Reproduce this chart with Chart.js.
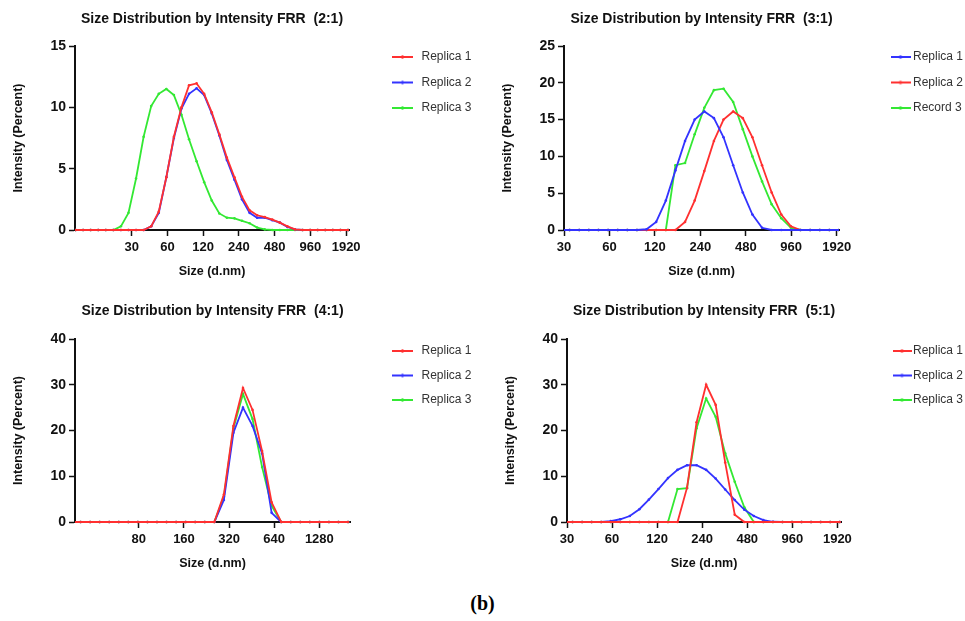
<!DOCTYPE html>
<html><head><meta charset="utf-8">
<script src="https://cdn.jsdelivr.net/npm/chart.js@4.4.1/dist/chart.umd.min.js"></script>
<style>
html,body{margin:0;padding:0;background:#fff;}
body{width:965px;height:621px;position:relative;overflow:hidden;}
canvas{position:absolute;}
#cap{position:absolute;left:0;width:965px;top:591px;text-align:center;font:bold 20px 'Liberation Serif','DejaVu Serif',serif;color:#000;line-height:24px;}
</style></head><body>
<canvas id="c1" width="482" height="290" style="left:0;top:0;width:482px;height:290px"></canvas>
<canvas id="c2" width="483" height="290" style="left:482px;top:0;width:483px;height:290px"></canvas>
<canvas id="c3" width="482" height="290" style="left:0;top:290px;width:482px;height:290px"></canvas>
<canvas id="c4" width="483" height="290" style="left:482px;top:290px;width:483px;height:290px"></canvas>
<div id="cap">(b)</div>
<script>
// ---------- data ----------
const titles = [
  'Size Distribution by Intensity FRR  (2:1)',
  'Size Distribution by Intensity FRR  (3:1)',
  'Size Distribution by Intensity FRR  (4:1)',
  'Size Distribution by Intensity FRR  (5:1)'
];
const xTitle = 'Size (d.nm)';
const yTitle = 'Intensity (Percent)';

const sizesA = [10.1, 11.7, 13.54, 15.69, 18.17, 21.04, 24.36, 28.21, 32.67, 37.84, 43.82, 50.75, 58.77, 68.06, 78.82, 91.28, 105.7, 122.4, 141.8, 164.2, 190.1, 220.2, 255.0, 295.3, 342.0, 396.1, 458.7, 531.2, 615.1, 712.4, 825.0, 955.4, 1106, 1281, 1484, 1718, 1990];
const sizesB = [28.21, 32.67, 37.84, 43.82, 50.75, 58.77, 68.06, 78.82, 91.28, 105.7, 122.4, 141.8, 164.2, 190.1, 220.2, 255.0, 295.3, 342.0, 396.1, 458.7, 531.2, 615.1, 712.4, 825.0, 955.4, 1106, 1281, 1484, 1718, 1990];

const frr21Replica1 = [0,0,0,0,0,0,0,0,0,0, 0.3,1.5,4.3,7.6,10.0,11.8,11.95,11.1,9.6,7.8, 5.9,4.3,2.7,1.6,1.2,1.05,0.85,0.6,0.3,0.05, 0,0,0,0,0,0,0];
const frr21Replica2 = [0,0,0,0,0,0,0,0,0,0, 0.3,1.4,4.3,7.5,9.9,11.1,11.55,11.0,9.5,7.7, 5.7,4.1,2.5,1.4,1.0,1.0,0.8,0.6,0.25,0.05, 0,0,0,0,0,0,0];
const frr21Replica3 = [0,0,0,0,0,0, 0.3,1.4,4.2,7.6,10.1,11.1,11.5,11.0,9.4,7.4,5.6,3.9,2.4,1.35, 1.0,0.95,0.75,0.55,0.2,0.05, 0,0,0,0,0,0,0,0,0,0,0];

const frr31Replica1 = [0,0,0,0,0,0,0,0,0, 0.1,1.1,4.0,8.1,12.1,15.0,16.1,15.2,12.6,8.8,5.1,2.1,0.3, 0,0,0,0,0,0,0,0];
const frr31Replica2 = [0,0,0,0,0,0,0,0,0,0,0,0,0, 1.1,4.0,8.0,12.1,15.0,16.1,15.2,12.6,8.8,5.1,2.1,0.5, 0,0,0,0,0];
const frr31Record3  = [0,0,0,0,0,0,0,0,0,0,0,0, 8.8,9.1,13.0,16.6,19.0,19.2,17.4,13.7,10.0,6.6,3.5,1.6,0.3, 0,0,0,0,0];

const frr41Replica1 = [0,0,0,0,0,0,0,0,0,0,0,0,0,0,0,0, 6.0,21.0,29.3,24.5,15.5,4.3, 0,0,0,0,0,0,0,0];
const frr41Replica2 = [0,0,0,0,0,0,0,0,0,0,0,0,0,0,0,0, 4.8,19.5,25.0,21.0,15.0,2.0, 0,0,0,0,0,0,0,0];
const frr41Replica3 = [0,0,0,0,0,0,0,0,0,0,0,0,0,0,0,0, 5.5,20.5,28.0,22.5,12.0,3.5, 0,0,0,0,0,0,0,0];

const frr51Replica1 = [0,0,0,0,0,0,0,0,0,0,0,0,0, 7.5,21.8,30.0,25.6,13.0,1.6, 0,0,0,0,0,0,0,0,0,0,0];
const frr51Replica2 = [0,0,0,0,0, 0.2,0.6,1.3,2.8,4.9,7.2,9.6,11.4,12.4,12.4,11.4,9.5,7.1,4.8,2.7,1.3,0.4,0.05, 0,0,0,0,0,0,0];
const frr51Replica3 = [0,0,0,0,0,0,0,0,0,0,0,0, 7.2,7.4,20.5,27.0,23.0,15.0,8.8,3.2, 0,0,0,0,0,0,0,0,0,0];

const ticksA = [30, 60, 120, 240, 480, 960, 1920];
const ticksB = [80, 160, 320, 640, 1280];

// ---------- styling / layout ----------
const RED = '#ff3030', BLUE = '#3333ff', GREEN = '#33e833';
const FAM = "'Liberation Sans', Arial, Helvetica, sans-serif";
const INK = '#111';

const panels = [
  { id: 'c1', title: titles[0], sizes: sizesA, xMin: 10, xMax: 2030, xTicks: ticksA, yMax: 15, yStep: 5,
    series: [['Replica 1', frr21Replica1, RED], ['Replica 2', frr21Replica2, BLUE], ['Replica 3', frr21Replica3, GREEN]],
    area: { left: 75, right: 349, top: 46, bottom: 230 }, titlePad: { top: 11, bottom: 18 },
    legend: { x: 389.5, y: 57, bw: 26, len: 21, pad: 13.5 } },
  { id: 'c2', title: titles[1], sizes: sizesB, xMin: 30, xMax: 1990, xTicks: ticksA, yMax: 25, yStep: 5,
    series: [['Replica 1', frr31Replica1, BLUE], ['Replica 2', frr31Replica2, RED], ['Record 3', frr31Record3, GREEN]],
    area: { left: 82, right: 357, top: 46, bottom: 230 }, titlePad: { top: 11, bottom: 18 },
    legend: { x: 412, y: 57, bw: 13, len: 20, pad: 13.5 } },
  { id: 'c3', title: titles[2], sizes: sizesB, xMin: 30, xMax: 2050, xTicks: ticksB, yMax: 40, yStep: 10,
    series: [['Replica 1', frr41Replica1, RED], ['Replica 2', frr41Replica2, BLUE], ['Replica 3', frr41Replica3, GREEN]],
    area: { left: 75, right: 350, top: 49, bottom: 232 }, titlePad: { top: 13, bottom: 19 },
    legend: { x: 389.5, y: 61, bw: 26, len: 21, pad: 12.5 } },
  { id: 'c4', title: titles[3], sizes: sizesB, xMin: 30, xMax: 2030, xTicks: ticksA, yMax: 40, yStep: 10,
    series: [['Replica 1', frr51Replica1, RED], ['Replica 2', frr51Replica2, BLUE], ['Replica 3', frr51Replica3, GREEN]],
    area: { left: 85, right: 359, top: 49, bottom: 232 }, titlePad: { top: 13, bottom: 19 },
    legend: { x: 415, y: 61, bw: 10, len: 19, pad: 12.5 } }
];

function swatch(color, len) {
  const c = document.createElement('canvas');
  c.width = len; c.height = 6;
  const g = c.getContext('2d');
  g.strokeStyle = color; g.lineWidth = 2;
  g.beginPath(); g.moveTo(0, 3); g.lineTo(len, 3); g.stroke();
  g.fillStyle = color; g.beginPath(); g.arc(len / 2, 3, 1.7, 0, Math.PI * 2); g.fill();
  return c;
}

const legendPlace = {
  id: 'legendPlace',
  afterLayout(chart, args, o) {
    const lg = chart.legend;
    if (!lg || o.x === undefined) return;
    const w = lg.width, h = lg.height;
    lg.left = o.x - o.pad; lg.right = lg.left + w;
    lg.top = o.y - o.fs / 2 - o.pad; lg.bottom = lg.top + h;
  }
};

function axisCommon() {
  return {
    grid: { display: true, drawOnChartArea: false, drawTicks: true, tickLength: 6, tickWidth: 1.5, tickColor: INK },
    border: { display: true, color: INK, width: 2 }
  };
}

panels.forEach(p => {
  const pad = { left: 0, right: 0, top: 0, bottom: 0 };
  const cfg = {
    type: 'line',
    data: {
      datasets: p.series.map(([label, vals, color]) => ({
        label,
        data: p.sizes.map((x, i) => ({ x, y: vals[i] })),
        borderColor: color, backgroundColor: color,
        borderWidth: 1.8, pointRadius: 1.3, pointHoverRadius: 1.3, pointBorderWidth: 0,
        pointBackgroundColor: color, tension: 0, fill: false,
        clip: { left: 0, right: 0, top: 4, bottom: 4 }
      }))
    },
    options: {
      responsive: false, animation: false, devicePixelRatio: 1, events: [],
      layout: { padding: pad, autoPadding: false },
      scales: {
        x: Object.assign(axisCommon(), {
          type: 'logarithmic', min: p.xMin, max: p.xMax,
          afterBuildTicks: sc => { sc.ticks = p.xTicks.map(v => ({ value: v })); },
          ticks: { autoSkip: false, maxRotation: 0, minRotation: 0, padding: 4, color: INK,
                   font: { family: FAM, size: 13, weight: 'bold' }, callback: v => String(v) },
          title: { display: true, text: xTitle, color: INK, font: { family: FAM, size: 12.5, weight: 'bold' },
                   padding: { top: 4, bottom: 0 } }
        }),
        y: Object.assign(axisCommon(), {
          type: 'linear', min: 0, max: p.yMax,
          ticks: { stepSize: p.yStep, padding: 3, color: INK, font: { family: FAM, size: 14, weight: 'bold' } },
          title: { display: true, text: yTitle, color: INK, font: { family: FAM, size: 12.5, weight: 'bold' },
                   padding: { top: 0, bottom: 21 } }
        })
      },
      plugins: {
        tooltip: { enabled: false },
        title: { display: true, text: p.title, color: INK, fullSize: false,
                 font: { family: FAM, size: 14, weight: 'bold' }, padding: p.titlePad },
        legend: {
          display: true, position: 'right', align: 'start', fullSize: false,
          labels: {
            usePointStyle: true, pointStyleWidth: p.legend.bw, boxHeight: 12, padding: p.legend.pad,
            color: '#333', font: { family: FAM, size: 12 },
            generateLabels(chart) {
              const items = Chart.defaults.plugins.legend.labels.generateLabels(chart);
              items.forEach((it, i) => { it.pointStyle = swatch(chart.data.datasets[i].borderColor, p.legend.len); });
              return items;
            }
          }
        },
        legendPlace: { x: p.legend.x, y: p.legend.y, pad: p.legend.pad, fs: 12 }
      }
    },
    plugins: [legendPlace]
  };
  const chart = new Chart(document.getElementById(p.id), cfg);
  const ca = chart.chartArea;
  pad.left += p.area.left - ca.left;
  pad.right += ca.right - p.area.right;
  pad.top += p.area.top - ca.top;
  pad.bottom += ca.bottom - p.area.bottom;
  chart.options.layout.padding = Object.assign({}, pad);
  chart.update();
});
</script>
</body></html>
